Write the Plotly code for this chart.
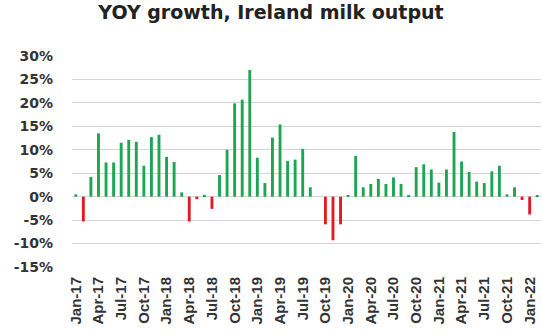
import plotly.graph_objects as go

month_names = ["Jan", "Feb", "Mar", "Apr", "May", "Jun",
               "Jul", "Aug", "Sep", "Oct", "Nov", "Dec"]
years = ["17", "18", "19", "20", "21", "22"]
months = [f"{m}-{y}" for y in years for m in month_names][:62]  # Jan-17 .. Feb-22

yoy_growth = [
    0.5, -5.3, 4.2, 13.5, 7.3, 7.3, 11.5, 12.1, 11.7, 6.6, 12.7, 13.2,
    8.5, 7.4, 0.9, -5.3, -0.5, 0.4, -2.6, 4.6, 10.0, 19.9, 20.7, 27.0,
    8.3, 2.9, 12.6, 15.4, 7.6, 7.9, 10.2, 2.0, 0.0, -5.9, -9.3, -5.9,
    0.3, 8.7, 2.0, 2.7, 3.8, 2.7, 4.1, 2.7, 0.3, 6.3, 6.9, 5.8,
    3.0, 5.8, 13.8, 7.5, 5.3, 3.2, 2.9, 5.4, 6.6, 0.5, 2.0, -0.7,
    -3.8, 0.3,
]

tick_labels = months[::3]
y_ticks = [-15, -10, -5, 0, 5, 10, 15, 20, 25, 30]
y_tick_text = [f"{v}%" for v in y_ticks]

GREEN = "#1ea551"
RED = "#e01b23"
colors = [GREEN if v >= 0 else RED for v in yoy_growth]

fig = go.Figure(
    go.Bar(x=months, y=yoy_growth, marker=dict(color=colors, line=dict(width=0)))
)

fig.update_layout(
    width=542,
    height=336,
    margin=dict(l=72, r=1, t=56, b=69, autoexpand=False),
    paper_bgcolor="white",
    plot_bgcolor="white",
    bargap=0.62,
    showlegend=False,
    title=dict(
        text="YOY growth, Ireland milk output",
        x=0.5,
        xanchor="center",
        xref="container",
        y=1 - 12 / 336,
        yref="container",
        yanchor="middle",
        font=dict(family="DejaVu Sans", size=19, weight="bold", color="#222222"),
    ),
)

fig.update_xaxes(
    type="category",
    tickmode="array",
    tickvals=tick_labels,
    ticktext=tick_labels,
    tickangle=-90,
    showgrid=False,
    showline=False,
    ticks="",
    automargin=False,
    ticklabelstandoff=6,
    tickfont=dict(family="Liberation Sans", size=15, weight="bold", color="#333333"),
    range=[-0.5, 61.5],
)

fig.update_yaxes(
    range=[-15, 30],
    tickmode="array",
    tickvals=y_ticks,
    ticktext=y_tick_text,
    showgrid=True,
    gridcolor="#d6d6d6",
    gridwidth=1.3,
    zeroline=True,
    zerolinecolor="#d6d6d6",
    zerolinewidth=1.3,
    showline=False,
    ticks="",
    automargin=False,
    ticklabelstandoff=18,
    tickfont=dict(family="DejaVu Sans", size=14, weight="bold", color="#333333"),
)

fig.write_html(
    "out.html",
    config={"displayModeBar": False},
    post_script="document.body.style.margin='0';document.body.style.overflow='hidden';",
)
